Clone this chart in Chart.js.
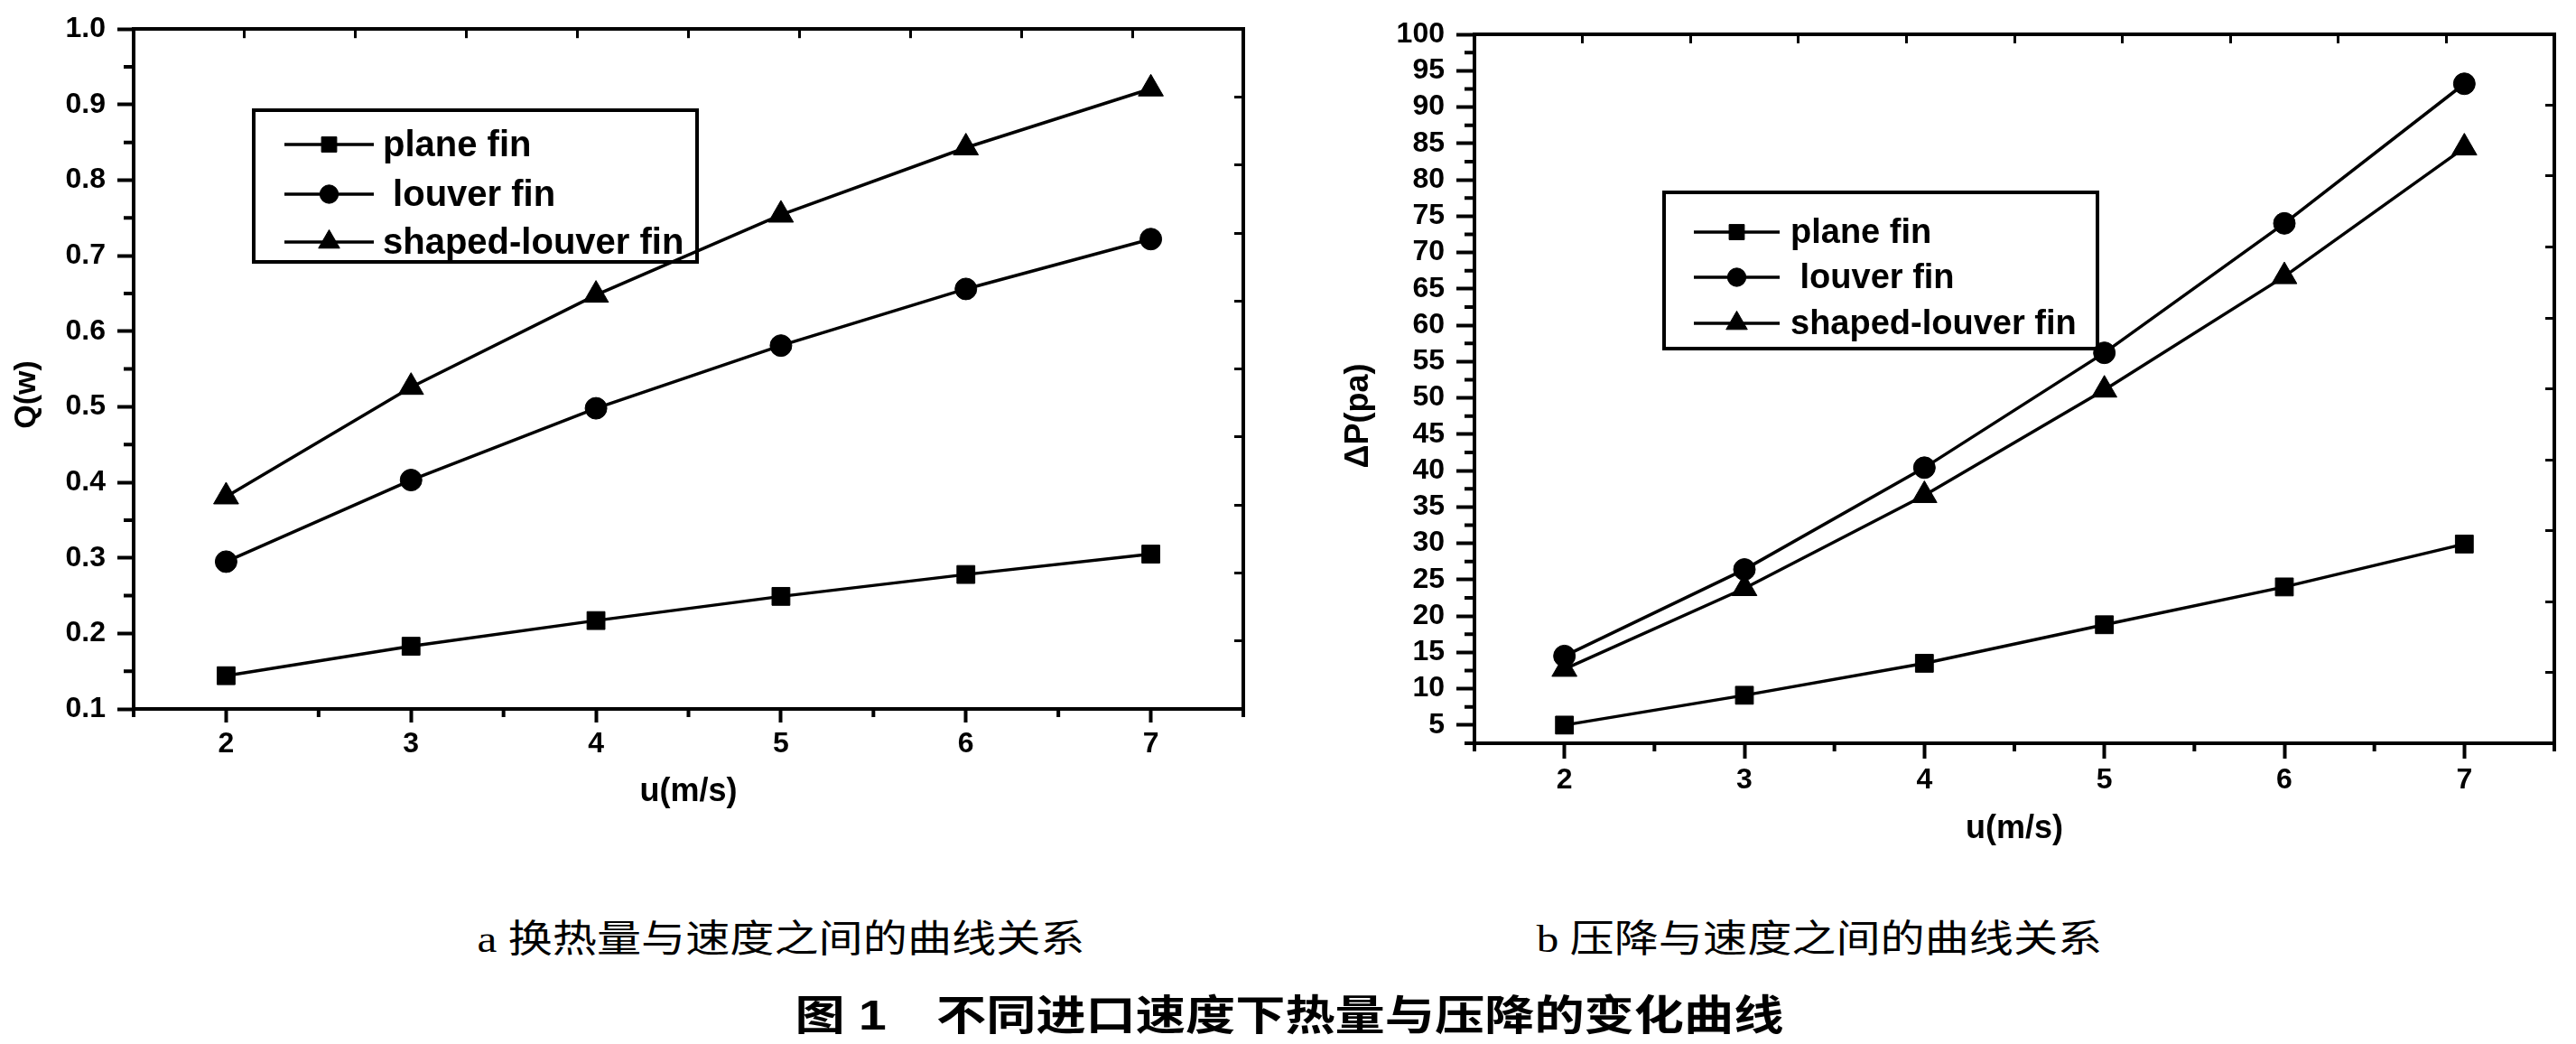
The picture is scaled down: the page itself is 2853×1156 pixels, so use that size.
<!DOCTYPE html>
<html>
<head>
<meta charset="utf-8">
<title>不同进口速度下热量与压降的变化曲线</title>
<script src="https://cdn.jsdelivr.net/npm/chart.js@4.4.0/dist/chart.umd.min.js"></script>
<style>
body { margin: 0; background: #fff; width: 2853px; height: 1156px; position: relative; overflow: hidden; }
#heatBox { position: absolute; left: 0; top: 0; }
#dropBox { position: absolute; left: 1440px; top: 0; }
.cap { position: absolute; white-space: pre; line-height: 1; color: #000;
       font-family: "Liberation Serif", "Noto Sans CJK SC", serif; font-size: 42px; }
.figTitle { font-family: "Liberation Sans", "Noto Sans CJK SC", sans-serif; font-weight: bold; font-size: 46px; }
</style>
</head>
<body>
<div id="heatBox"><canvas id="heatChart" width="1430" height="950"></canvas></div>
<div id="dropBox"><canvas id="dropChart" width="1413" height="960"></canvas></div>
<div class="cap" style="left:865px;top:1040px;transform:translate(-50%,-50%) scaleX(1.17)">a 换热量与速度之间的曲线关系</div>
<div class="cap" style="left:2015px;top:1040px;transform:translate(-50%,-50%) scaleX(1.17)">b 压降与速度之间的曲线关系</div>
<div class="cap figTitle" style="left:1428px;top:1124px;transform:translate(-50%,-50%) scaleX(1.2)">图 1　不同进口速度下热量与压降的变化曲线</div>
<script>
// values
var speeds = [2, 3, 4, 5, 6, 7];
var seriesNames = ['plane fin', ' louver fin', 'shaped-louver fin'];

var heatPlane = [0.144, 0.183, 0.217, 0.249, 0.278, 0.305];
var heatLouver = [0.295, 0.403, 0.498, 0.581, 0.656, 0.722];
var heatShaped = [0.381, 0.526, 0.648, 0.754, 0.843, 0.921];

var dropPlane = [5.0, 9.1, 13.5, 18.8, 24.0, 29.9];
var dropLouver = [14.5, 26.4, 40.4, 56.2, 74.0, 93.2];
var dropShaped = [12.7, 23.8, 36.6, 51.1, 66.7, 84.4];

// tick labels
var speedTicks = [2, 3, 4, 5, 6, 7];
var speedMinor = [1.5, 2.5, 3.5, 4.5, 5.5, 6.5, 7.5];
var heatTicks = [0.1, 0.2, 0.3, 0.4, 0.5, 0.6, 0.7, 0.8, 0.9, 1.0];
var heatMinor = [0.15, 0.25, 0.35, 0.45, 0.55, 0.65, 0.75, 0.85, 0.95];
var dropTicks = [5, 10, 15, 20, 25, 30, 35, 40, 45, 50, 55, 60, 65, 70, 75, 80, 85, 90, 95, 100];
var dropMinor = [2.5, 7.5, 12.5, 17.5, 22.5, 27.5, 32.5, 37.5, 42.5, 47.5, 52.5, 57.5, 62.5, 67.5, 72.5, 77.5, 82.5, 87.5, 92.5, 97.5];

var FONT = '"Liberation Sans", Arial, sans-serif';

// short outward ticks between the labelled ones
var minorTicks = {
    id: 'minorTicks',
    afterDraw: function(chart, args, opts) {
        var ctx = chart.ctx, area = chart.chartArea;
        ctx.save();
        ctx.strokeStyle = '#000';
        ctx.lineWidth = 4;
        ctx.beginPath();
        opts.x.forEach(function(v) {
            var px = chart.scales.x.getPixelForValue(v);
            ctx.moveTo(px, area.bottom);
            ctx.lineTo(px, area.bottom + opts.xLen);
        });
        opts.y.forEach(function(v) {
            var py = chart.scales.y.getPixelForValue(v);
            ctx.moveTo(area.left, py);
            ctx.lineTo(area.left - opts.yLen, py);
        });
        ctx.stroke();
        ctx.restore();
    }
};

// framed legend sitting inside the plot
var boxLegend = {
    id: 'boxLegend',
    afterDraw: function(chart, args, opts) {
        var ctx = chart.ctx;
        ctx.save();
        ctx.strokeStyle = '#000';
        ctx.fillStyle = '#000';
        ctx.lineWidth = 4;
        ctx.strokeRect(opts.x, opts.y, opts.w, opts.h);
        ctx.font = 'bold ' + opts.fontSize + 'px ' + FONT;
        ctx.textBaseline = 'middle';
        ctx.textAlign = 'left';
        chart.data.datasets.forEach(function(ds, i) {
            var y = opts.rows[i];
            ctx.lineWidth = ds.borderWidth;
            ctx.beginPath();
            ctx.moveTo(opts.lineFrom, y);
            ctx.lineTo(opts.lineTo, y);
            ctx.stroke();
            ctx.lineWidth = 1;
            Chart.helpers.drawPoint(ctx, {
                pointStyle: ds.pointStyle,
                radius: ds.pointRadius * 0.85,
                rotation: 0,
                borderWidth: 1
            }, (opts.lineFrom + opts.lineTo) / 2, y);
            ctx.fillText(ds.label, opts.textX, y + 2);
        });
        ctx.restore();
    }
};

function toPoints(vals) {
    return speeds.map(function(u, i) { return {x: u, y: vals[i]}; });
}

function series(name, vals, style, radius) {
    return {
        label: name,
        data: toPoints(vals),
        borderColor: '#000',
        backgroundColor: '#000',
        borderWidth: 3.5,
        pointStyle: style,
        pointRadius: radius,
        pointBorderWidth: 1,
        tension: 0
    };
}

function buildChart(id, cfg) {
    var tickFont = {family: FONT, weight: 'bold', size: cfg.tickSize};
    var titleFont = {family: FONT, weight: 'bold', size: 36};
    return new Chart(document.getElementById(id), {
        type: 'line',
        data: {
            datasets: [
                series(seriesNames[0], cfg.values[0], 'rect', 14),
                series(seriesNames[1], cfg.values[1], 'circle', 12),
                series(seriesNames[2], cfg.values[2], 'triangle', 16)
            ]
        },
        options: {
            responsive: false,
            animation: false,
            devicePixelRatio: 1,
            layout: {padding: cfg.padding},
            plugins: {
                legend: {display: false},
                tooltip: {enabled: false},
                minorTicks: {x: speedMinor, y: cfg.minor, xLen: 9, yLen: 11},
                boxLegend: cfg.legend
            },
            scales: {
                x: {
                    type: 'linear',
                    position: 'bottom',
                    min: 1.5,
                    max: 7.5,
                    afterBuildTicks: function(s) { s.ticks = speedTicks.map(function(v) { return {value: v}; }); },
                    afterFit: function(s) { s.height = cfg.xAxisHeight; },
                    ticks: {font: tickFont, color: '#000', padding: 5, maxRotation: 0, autoSkip: false,
                        callback: function(v) { return String(v); }},
                    grid: {drawOnChartArea: false, color: '#000', tickLength: cfg.xTickLen, tickWidth: 4},
                    border: {color: '#000', width: 4},
                    title: {display: true, text: 'u(m/s)', font: titleFont, color: '#000', padding: 0}
                },
                y: {
                    type: 'linear',
                    position: 'left',
                    min: cfg.yMin,
                    max: cfg.yMax,
                    afterBuildTicks: function(s) { s.ticks = cfg.ticks.map(function(v) { return {value: v}; }); },
                    afterFit: function(s) { s.width = cfg.yAxisWidth; },
                    ticks: {font: tickFont, color: '#000', padding: cfg.yTickPad, autoSkip: false,
                        callback: function(v) { return v.toFixed(cfg.decimals); }},
                    grid: {drawOnChartArea: false, color: '#000', tickLength: cfg.yTickLen, tickWidth: 4},
                    border: {color: '#000', width: 4},
                    title: {display: true, text: cfg.yTitle, font: {family: FONT, weight: 'bold', size: cfg.yTitleSize},
                        color: '#000', padding: {top: cfg.yTitlePad, bottom: 0}}
                },
                x2: {
                    type: 'linear',
                    position: 'top',
                    min: 0,
                    max: 10,
                    afterFit: function(s) { s.height = 0; },
                    ticks: {display: false, stepSize: 1},
                    grid: {drawOnChartArea: false, color: '#000', tickLength: -10, tickWidth: 3},
                    border: {color: '#000', width: 4}
                },
                y2: {
                    type: 'linear',
                    position: 'right',
                    min: 0,
                    max: 10,
                    afterFit: function(s) { s.width = 0; },
                    ticks: {display: false, stepSize: 1},
                    grid: {drawOnChartArea: false, color: '#000', tickLength: -10, tickWidth: 3},
                    border: {color: '#000', width: 4}
                }
            }
        },
        plugins: [minorTicks, boxLegend]
    });
}

buildChart('heatChart', {
    values: [heatPlane, heatLouver, heatShaped],
    ticks: heatTicks,
    minor: heatMinor,
    yMin: 0.1,
    yMax: 1.0,
    decimals: 1,
    yTitle: 'Q(w)      ',
    yTitleSize: 34,
    yTitlePad: 9,
    tickSize: 32,
    yTickPad: 13,
    yTickLen: 18,
    xTickLen: 15,
    yAxisWidth: 148,
    xAxisHeight: 114,
    padding: {left: 0, top: 23, right: 53, bottom: 51},
    legend: {x: 281, y: 122, w: 491, h: 168, rows: [160, 215, 268],
        lineFrom: 315, lineTo: 414, textX: 424, fontSize: 40}
});

buildChart('dropChart', {
    values: [dropPlane, dropLouver, dropShaped],
    ticks: dropTicks,
    minor: dropMinor,
    yMin: 2.5,
    yMax: 100,
    decimals: 0,
    yTitle: 'ΔP(pa)      ',
    yTitleSize: 36,
    yTitlePad: 43,
    tickSize: 32,
    yTickPad: 13,
    yTickLen: 20,
    xTickLen: 17,
    yAxisWidth: 193,
    xAxisHeight: 117,
    padding: {left: 0, top: 38, right: 24, bottom: 20},
    legend: {x: 403, y: 213, w: 480, h: 173, rows: [257, 307, 358],
        lineFrom: 436, lineTo: 531, textX: 543, fontSize: 38}
});
</script>
</body>
</html>
